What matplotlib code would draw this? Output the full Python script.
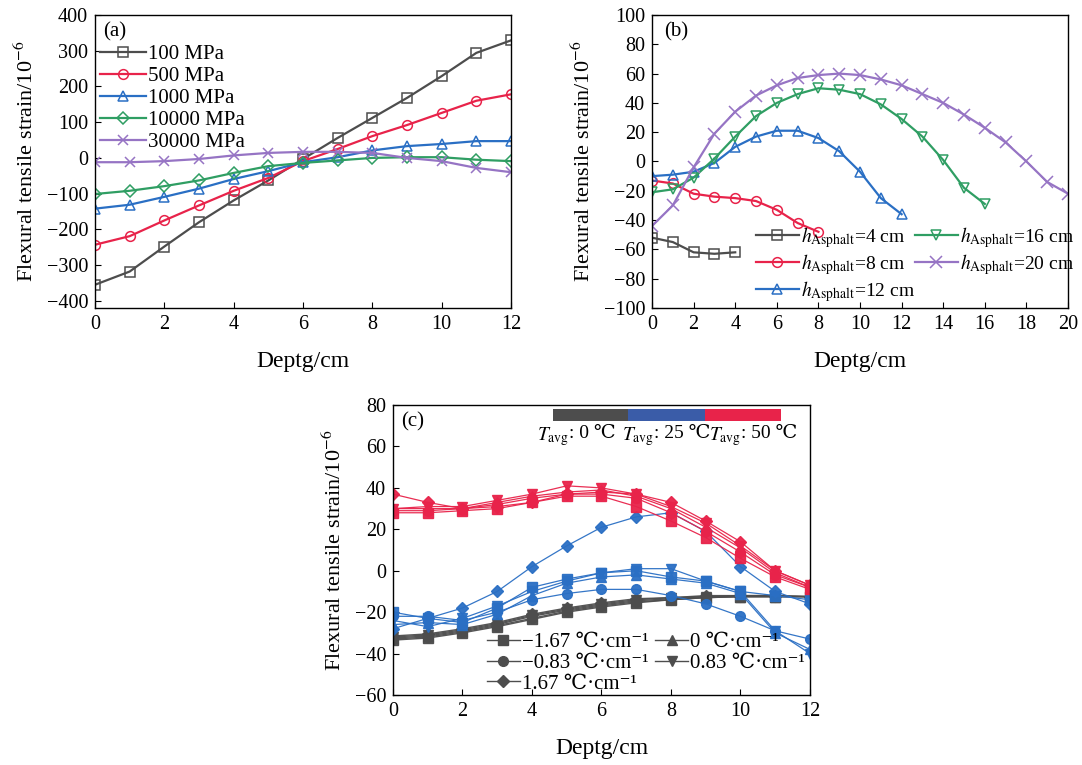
import numpy as np
import matplotlib
matplotlib.use('Agg')
import matplotlib.pyplot as plt
from matplotlib.lines import Line2D
from matplotlib.patches import Rectangle

# 字体: Times 风格, 缺字时回退
plt.rcParams['font.family'] = ['Liberation Serif', 'DejaVu Serif', 'Noto Sans CJK SC']
plt.rcParams['mathtext.fontset'] = 'stix'
plt.rcParams['axes.unicode_minus'] = True
plt.rcParams['xtick.direction'] = 'in'
plt.rcParams['ytick.direction'] = 'in'
plt.rcParams['font.size'] = 14.5

GRAY = '#4d4d4d'
RED = '#e8234a'
BLUE = '#2a6fc4'
GREEN = '#2f9e63'
PURPLE = '#9674c4'

# ---------------- (a) 不同模量
depth_a = np.arange(0, 13)
mod_labels = ['100 MPa', '500 MPa', '1000 MPa', '10000 MPa', '30000 MPa']
e100 = [-355, -318, -248, -180, -119, -63, -3, 56, 112, 168, 229, 294, 329]
e500 = [-243, -219, -175, -133, -92, -56, -9, 25, 61, 92, 126, 160, 178]
e1000 = [-142, -131, -109, -86, -59, -37, -12, 2, 21, 33, 39, 47, 47]
e10000 = [-101, -92, -79, -63, -42, -23, -14, -7, 0, 2, 2, -5, -9]
e30000 = [-12, -12, -9, -3, 7, 14, 17, 17, 14, 0, -9, -28, -40]

# ---------------- (b) 不同沥青层厚度
h_labels = [r'$h_{\rm Asphalt}$=4 cm', r'$h_{\rm Asphalt}$=8 cm', r'$h_{\rm Asphalt}$=12 cm',
            r'$h_{\rm Asphalt}$=16 cm', r'$h_{\rm Asphalt}$=20 cm']
h4 = [-52, -55, -62, -63, -62]
h8 = [-13, -15, -22, -24, -25, -27, -33, -42, -48]
h12 = [-10, -9, -7, -1, 10, 17, 21, 21, 16, 7, -7, -25, -36]
h16 = [-21, -19, -11, 2, 17, 31, 40, 46, 50, 49, 46, 39, 29, 17, 1, -18, -29]
h20 = [-44, -30, -4, 19, 34, 45, 52, 57, 59, 60, 59, 56, 52, 46, 40, 32, 23, 13, 0, -14, -22]

# ---------------- (c) 不同温度梯度
depth_c = np.arange(0, 13)
grad_labels = ['−1.67 ℃·cm⁻¹', '−0.83 ℃·cm⁻¹', '0 ℃·cm⁻¹', '0.83 ℃·cm⁻¹', '1.67 ℃·cm⁻¹']
temp_labels = ['0 ℃', '25 ℃', '50 ℃']
t0 = [
    [-33.5, -32.5, -30, -27, -23.5, -20, -17.5, -15.5, -14, -13, -12.5, -12.5, -12.5],
    [-33, -32, -29.5, -26.5, -23, -19.5, -17, -15, -14, -13, -12.5, -12.5, -12.5],
    [-32.5, -31.5, -29, -26, -22, -19, -16.5, -14.5, -13.5, -12.5, -12.5, -12.5, -12.5],
    [-32, -31, -28.5, -25.5, -21.5, -18.5, -16, -14, -13, -12.5, -12, -12, -12.5],
    [-31.5, -30.5, -28, -25, -21, -18, -15.5, -13.5, -13, -12, -12, -12, -12.5],
]
t25 = [
    [-20, -23, -25, -18, -8, -4, -1, 0, -3, -5, -10, -12, -14],
    [-22, -22, -24, -20, -14, -11, -9, -9, -12, -16, -22, -29, -33],
    [-26, -25, -26, -21, -12, -6, -3, -2, -4, -6, -11, -30, -38],
    [-24, -27, -23, -17, -10, -5, -1, 1, 1, -5, -10, -29, -40],
    [-28, -23, -18, -10, 2, 12, 21, 26, 28, 19, 2, -10, -16],
]
t50 = [
    [28, 28, 29, 30, 33, 36, 36, 31, 24, 16, 6, -3, -9],
    [29, 29, 30, 32, 35, 37, 37, 35, 28, 19, 9, -2, -8],
    [30, 30, 30, 33, 36, 38, 39, 36, 30, 21, 11, -1, -8],
    [30, 31, 31, 34, 37, 41, 40, 37, 31, 23, 12, 0, -7],
    [37, 33, 30, 31, 33, 37, 38, 37, 33, 24, 14, 0, -7],
]

fig = plt.figure(figsize=(10.82, 7.65), dpi=100)

ylab = r'Flexural tensile strain/10$^{-6}$'


def style(ax):
    ax.tick_params(top=False, right=False, length=4, width=0.8, labelsize=14.5, pad=5)
    for s in ax.spines.values():
        s.set_linewidth(1.0)
    ax.set_xlabel('Deptg/cm', fontsize=17, labelpad=12)
    ax.set_ylabel(ylab, fontsize=16, labelpad=6)


# (a)
ax1 = fig.add_axes([0.0878, 0.5974, 0.3845, 0.383])
cols_a = [GRAY, RED, BLUE, GREEN, PURPLE]
marks_a = ['s', 'o', '^', 'D', 'x']
for ys, lab, c, m in zip([e100, e500, e1000, e10000, e30000], mod_labels, cols_a, marks_a):
    ax1.plot(depth_a, ys, color=c, marker=m, mfc='none', mec=c, ms=7 if m != 'D' else 6,
             mew=1.1, lw=1.6, label=lab)
ax1.set_xlim(0, 12)
ax1.set_ylim(-420, 400)
ax1.set_xticks(range(0, 13, 2))
ax1.set_yticks(range(-400, 401, 100))
style(ax1)
ax1.text(0.02, 0.975, '(a)', transform=ax1.transAxes, va='top', ha='left', fontsize=15)
ax1.legend(loc='upper left', bbox_to_anchor=(0.012, 0.90), frameon=False, fontsize=15,
           handlelength=2.2, handletextpad=0.1, labelspacing=0.12, borderpad=0, borderaxespad=0)

# (b)
ax2 = fig.add_axes([0.6026, 0.5974, 0.3845, 0.383])
cols_b = [GRAY, RED, BLUE, GREEN, PURPLE]
marks_b = ['s', 'o', '^', 'v', 'x']
for ys, lab, c, m in zip([h4, h8, h12, h16, h20], h_labels, cols_b, marks_b):
    ax2.plot(np.arange(len(ys)), ys, color=c, marker=m, mfc='none', mec=c,
             ms=8 if m == 'x' else 7, mew=1.1, lw=1.6, label=lab)
ax2.set_xlim(0, 20)
ax2.set_ylim(-100, 100)
ax2.set_xticks(range(0, 21, 2))
ax2.set_yticks(range(-100, 101, 20))
style(ax2)
ax2.text(0.03, 0.975, '(b)', transform=ax2.transAxes, va='top', ha='left', fontsize=15)
ax2.legend(loc='lower left', bbox_to_anchor=(0.25, 0.015), ncol=2, frameon=False, fontsize=14,
           handlelength=2.2, handletextpad=0.1, labelspacing=0.1, columnspacing=0.0,
           borderpad=0, borderaxespad=0)

# (c)
ax3 = fig.add_axes([0.3632, 0.0915, 0.3854, 0.379])
marks_c = ['s', 'o', '^', 'v', 'D']
ms_c = [6.5, 7, 7, 7, 6.5]
for group, c, lw in [(t0, GRAY, 1.0), (t25, BLUE, 0.9), (t50, RED, 0.9)]:
    for ys, m, ms in zip(group, marks_c, ms_c):
        ax3.plot(depth_c, ys, color=c, marker=m, ms=ms, mec=c, lw=lw, alpha=0.95)
ax3.set_xlim(0, 12)
ax3.set_ylim(-60, 80)
ax3.set_xticks(range(0, 13, 2))
ax3.set_yticks(range(-60, 81, 20))
style(ax3)
ax3.text(0.02, 0.975, '(c)', transform=ax3.transAxes, va='top', ha='left', fontsize=15)

# 温度色条
bar_x = [0.384, 0.564, 0.748, 0.930]
for i, c in enumerate([GRAY, '#3a5ca8', RED]):
    ax3.add_patch(Rectangle((bar_x[i], 0.945), bar_x[i + 1] - bar_x[i], 0.04,
                            transform=ax3.transAxes, color=c, clip_on=False, lw=0))
lab_x = [0.345, 0.549, 0.758]
for x0, tl in zip(lab_x, temp_labels):
    tav = ax3.text(x0, 0.893, r'$T_{\rm avg}$', transform=ax3.transAxes,
                   ha='left', va='center', fontsize=14)
    ax3.annotate(': ' + tl, xy=(1.0, 0.62), xycoords=tav, ha='left', va='center', fontsize=14)

# 图例: 灰色代表各温度梯度
handles = [Line2D([], [], color=GRAY, marker=m, ms=ms, lw=1.0) for m, ms in zip(marks_c, ms_c)]
order = [0, 1, 4, 2, 3]
ax3.legend([handles[i] for i in order], [grad_labels[i] for i in order],
           loc='lower left', bbox_to_anchor=(0.225, 0.005), ncol=2, frameon=False, fontsize=15,
           handlelength=1.6, handletextpad=0.1, labelspacing=0.05, columnspacing=0.3,
           borderpad=0, borderaxespad=0)

fig.savefig('out.png', dpi=100)
